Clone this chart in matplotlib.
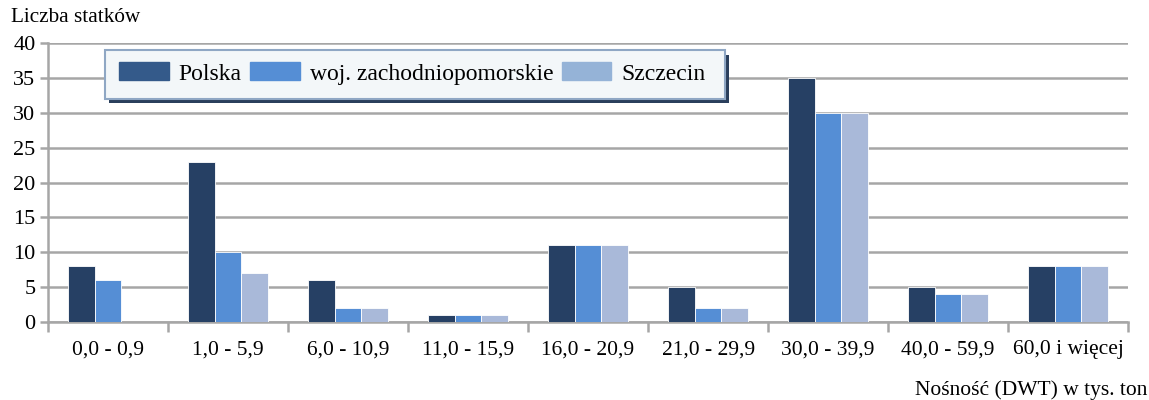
import matplotlib.pyplot as plt
import numpy as np
from matplotlib.patches import Rectangle

plt.rcParams['font.family'] = ['Liberation Serif', 'DejaVu Serif']

categories = ['0,0 - 0,9', '1,0 - 5,9', '6,0 - 10,9', '11,0 - 15,9', '16,0 - 20,9',
              '21,0 - 29,9', '30,0 - 39,9', '40,0 - 59,9', '60,0 i więcej']
polska = [8, 23, 6, 1, 11, 5, 35, 5, 8]
zachodniopomorskie = [6, 10, 2, 1, 11, 2, 30, 4, 8]
szczecin = [0, 7, 2, 1, 11, 2, 30, 4, 8]
series_names = ['Polska', 'woj. zachodniopomorskie', 'Szczecin']

bar_colors = ['#264064', '#558ed5', '#a9b9d9']
legend_colors = ['#345a8a', '#558ed5', '#95b3d7']

fig = plt.figure(figsize=(11.49, 4.0), dpi=100)
ax = fig.add_axes([0.0418, 0.195, 0.94, 0.6975])

x = np.arange(len(categories))
w = 0.223
for i, vals in enumerate([polska, zachodniopomorskie, szczecin]):
    ax.bar(x + (i - 1) * w, vals, w, color=bar_colors[i], edgecolor='white',
           linewidth=0.6, zorder=3)

ax.set_xlim(-0.5, len(categories) - 0.5)
ax.set_ylim(0, 40)
ax.set_yticks(range(0, 41, 5))
ax.yaxis.grid(True, color='#a6a6a6', linewidth=1.8, zorder=0)
ax.set_axisbelow(True)

ax.set_xticks(x)
ax.set_xticklabels(categories, fontsize=15.5)
ax.tick_params(axis='x', length=0, pad=13)
ax.set_xticks(np.arange(-0.5, len(categories)), minor=True)
ax.tick_params(axis='x', which='minor', length=7, width=1.8, color='#a6a6a6')
ax.tick_params(axis='y', labelsize=16, length=6, width=1.8, color='#a6a6a6', pad=3)

for s in ['top', 'right']:
    ax.spines[s].set_visible(False)
for s in ['left', 'bottom']:
    ax.spines[s].set_color('#a6a6a6')
    ax.spines[s].set_linewidth(1.8)

fig.text(0.010, 0.955, 'Liczba statków', fontsize=15.3, va='center', ha='left')
fig.text(0.999, 0.0, 'Nośność (DWT) w tys. ton', fontsize=15.5, va='bottom', ha='right')

# legend box with drop shadow (pixel layout converted to figure fractions)
W, H = 1149, 400
shadow = Rectangle((109 / W, 1 - 103 / H), 620 / W, 48 / H, transform=fig.transFigure,
                   facecolor='#2a3f5c', edgecolor='none', zorder=5)
box = Rectangle((105 / W, 1 - 98.5 / H), 620 / W, 49 / H, transform=fig.transFigure,
                facecolor='#f3f7f9', edgecolor='#8fa7c4', linewidth=1.5, zorder=6)
fig.add_artist(shadow)
fig.add_artist(box)

handles = [Rectangle((0, 0), 1, 1, color=c) for c in legend_colors]
leg = fig.legend(handles, series_names, loc='center left', ncol=3, frameon=False,
                 bbox_to_anchor=(119 / W, 1 - 73.5 / H), fontsize=17,
                 handlelength=2.1, handleheight=0.78, handletextpad=0.42,
                 columnspacing=0.36, borderpad=0, borderaxespad=0)
leg.set_zorder(7)

fig.savefig('out.png', dpi=100)
